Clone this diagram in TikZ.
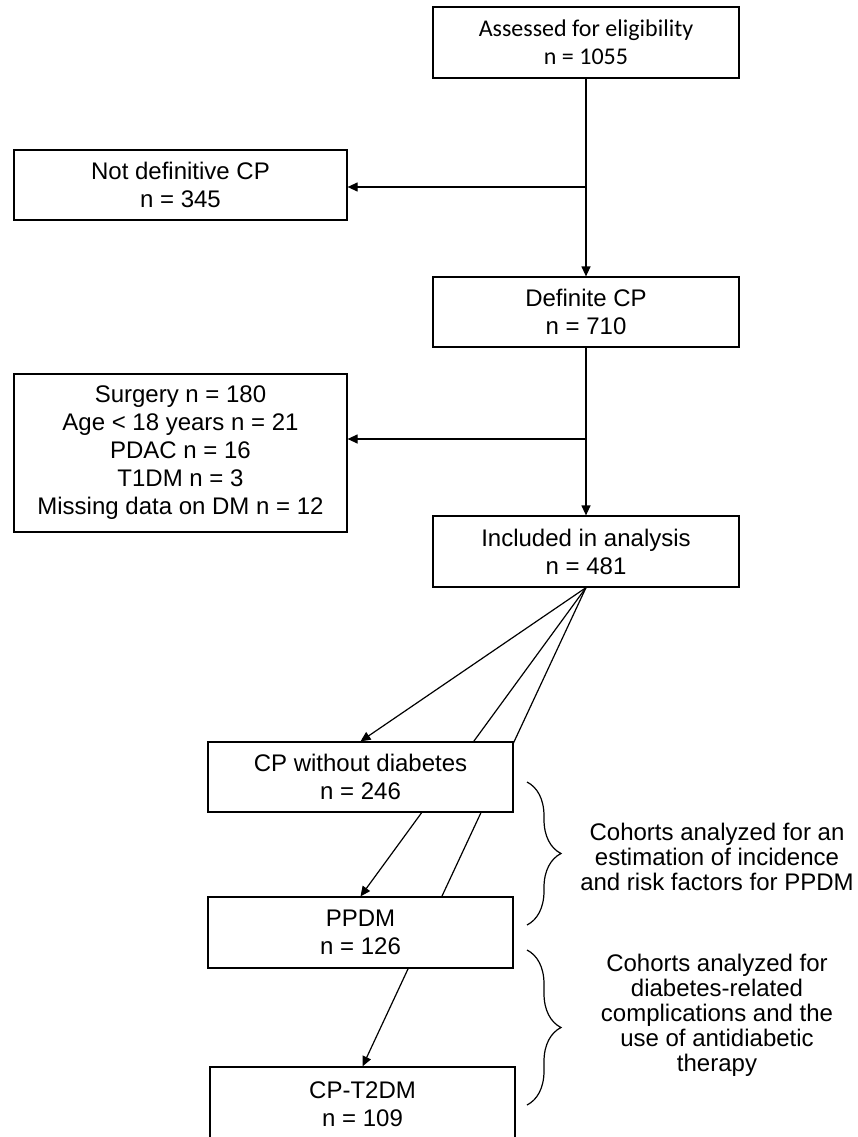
\documentclass[tikz,border=0pt]{standalone}
\usepackage{fontspec}
\setmainfont{Liberation Sans}
\newfontfamily\calibri{Carlito}
\usetikzlibrary{arrows.meta,decorations.pathreplacing,backgrounds}

\tikzset{
  box/.style={draw, line width=1.2pt, fill=white, align=center, inner sep=0pt,
    font=\fontsize{24}{28}\selectfont},
  arr/.style={line width=1.2pt, -{Triangle[length=10pt,width=9pt]}},
  brc/.style={line width=1.2pt, decorate, decoration={brace, amplitude=34pt}},
  note/.style={align=center, font=\fontsize{24}{25}\selectfont},
}

\begin{document}
\begin{tikzpicture}[x=1pt, y=-1pt]
\useasboundingbox (0,0) rectangle (857,1137);

%screening
\node[box, minimum width=306pt, minimum height=71pt, font=\calibri\fontsize{24}{28}\selectfont] (assess) at (586,42.5) {Assessed for eligibility\\n = 1055};
\node[box, minimum width=333pt, minimum height=70pt] (notdef) at (180.5,185) {Not definitive CP\\n = 345};
\node[box, minimum width=306pt, minimum height=70pt] (defcp) at (586,312) {Definite CP\\n = 710};
\node[box, minimum width=333pt, minimum height=158pt] (excl) at (180.5,453) {Surgery n = 180\\Age < 18 years n = 21\\PDAC n = 16\\T1DM n = 3\\Missing data on DM n = 12};
\node[box, minimum width=306pt, minimum height=71pt] (incl) at (586,551.5) {Included in analysis\\n = 481};

\coordinate (j1) at (586,187);
\coordinate (j2) at (586,439);
\draw[arr] (assess) -- (defcp);
\draw[arr] (j1) -- (j1 -| notdef.east);
\draw[arr] (defcp) -- (incl);
\draw[arr] (j2) -- (j2 -| excl.east);

%cohorts
\node[box, minimum width=305pt, minimum height=70pt] (cpnd) at (360.5,777) {CP without diabetes\\n = 246};
\node[box, minimum width=305pt, minimum height=71pt] (ppdm) at (360.5,932.5) {PPDM\\n = 126};
\node[box, minimum width=305pt, minimum height=74pt] (t2dm) at (362.5,1104) {CP-T2DM\\n = 109};

\begin{scope}[on background layer]
\draw[arr] (incl.south) -- (cpnd.north);
\draw[arr] (incl.south) -- (ppdm.north);
\draw[arr] (incl.south) -- (t2dm.north);
\end{scope}

%braces
\draw[brc] (527,782) -- (527,925);
\draw[brc] (527,950) -- (527,1105);
\node[note] (coh1) at (717,857) {Cohorts analyzed for an\\estimation of incidence\\and risk factors for PPDM};
\node[note] (coh2) at (717,1015) {Cohorts analyzed for\\diabetes-related\\complications and the\\use of antidiabetic\\therapy};
\end{tikzpicture}
\end{document}
